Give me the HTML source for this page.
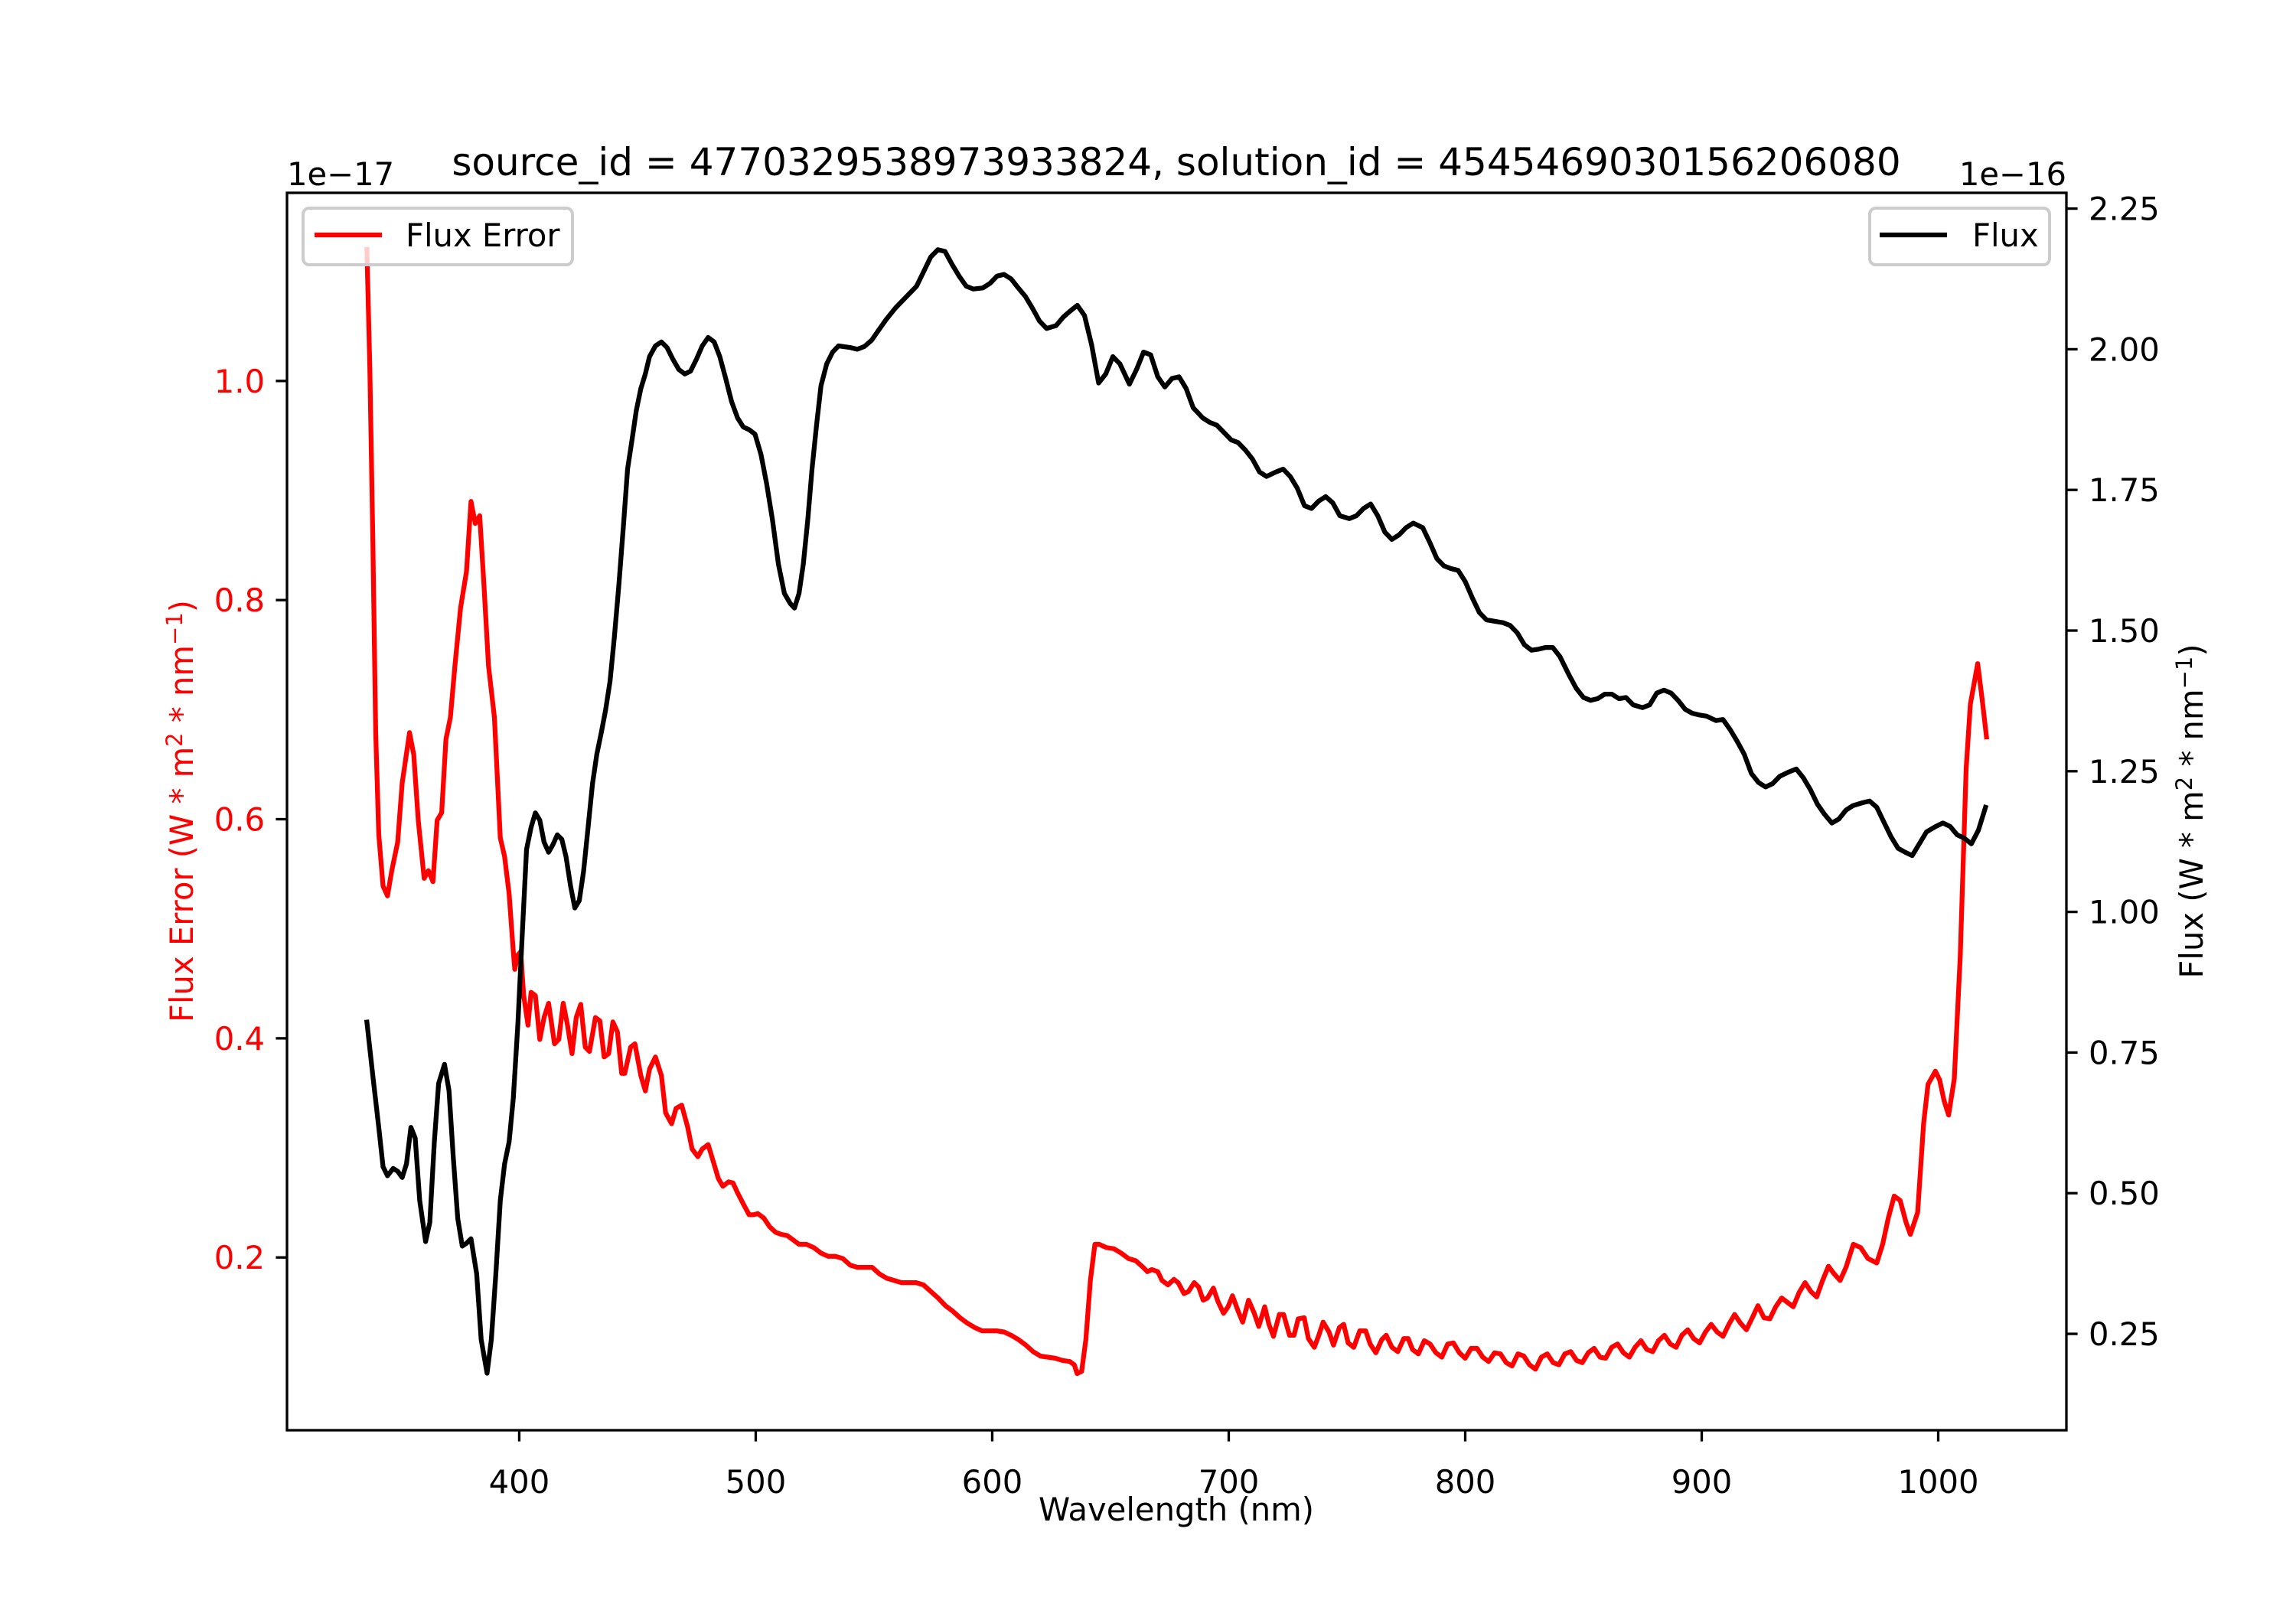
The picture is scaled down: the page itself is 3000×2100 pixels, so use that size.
<!DOCTYPE html>
<html><head><meta charset="utf-8"><title>Flux spectrum</title>
<style>
html,body{margin:0;padding:0;background:#fff;}
svg{display:block;}
text{font-family:"DejaVu Sans","Liberation Sans",sans-serif;}
</style></head>
<body>
<svg id="chart" width="3000" height="2100" viewBox="0 0 3000 2100" xmlns="http://www.w3.org/2000/svg">
<rect width="3000" height="2100" fill="#fff"/>
<text x="1537" y="229" font-size="50" text-anchor="middle">source_id = 4770329538973933824, solution_id = 4545469030156206080</text>
<text x="375" y="242" font-size="41.7">1e−17</text>
<text x="2700" y="242" font-size="41.7" text-anchor="end">1e−16</text>
<g id="plot"></g>
<text x="1537" y="1987" font-size="41.7" text-anchor="middle">Wavelength (nm)</text>
<text transform="translate(252,1060) rotate(-90)" font-size="41.7" fill="#ff0000" text-anchor="middle">Flux Error (W * m<tspan font-size="29" dy="-14">2</tspan><tspan dy="14"> * nm</tspan><tspan font-size="29" dy="-14">−1</tspan><tspan dy="14">)</tspan></text>
<text transform="translate(2878,1060) rotate(-90)" font-size="41.7" fill="#000" text-anchor="middle">Flux (W * m<tspan font-size="29" dy="-14">2</tspan><tspan dy="14"> * nm</tspan><tspan font-size="29" dy="-14">−1</tspan><tspan dy="14">)</tspan></text>
</svg>
<script>
const xTicks = [400, 500, 600, 700, 800, 900, 1000];
const errTicks = [0.2, 0.4, 0.6, 0.8, 1.0];
const errTickLabels = ["0.2", "0.4", "0.6", "0.8", "1.0"];
const fluxTicks = [0.25, 0.5, 0.75, 1.0, 1.25, 1.5, 1.75, 2.0, 2.25];
const fluxTickLabels = ["0.25", "0.50", "0.75", "1.00", "1.25", "1.50", "1.75", "2.00", "2.25"];

const wlFlux = [335.6,338.1,340.6,342.4,344.3,346.7,348.6,350.5,352.3,354.2,356.0,357.9,360.4,362.2,364.1,365.9,368.4,370.3,372.1,374.0,375.9,377.7,379.6,382.0,383.9,386.4,388.2,390.1,392.0,393.8,395.7,397.5,399.4,401.2,403.1,405.0,406.8,408.7,410.5,412.4,414.2,416.1,418.0,419.8,421.7,423.5,425.4,427.2,429.1,431.0,432.8,434.7,436.5,438.4,440.2,442.1,444.0,445.8,447.7,449.5,451.4,453.3,455.1,457.6,460.1,462.5,465.0,467.5,470.0,472.4,474.9,477.4,479.9,482.4,484.8,487.3,489.8,492.3,494.7,497.2,499.7,502.2,504.6,507.1,509.6,512.1,514.6,516.4,518.3,520.1,522.0,523.8,525.7,527.6,530.0,532.5,535.0,
540,543,546,549,552,555,559,562,565,568,571,574,577,580,583,586,589,592,596,599,602,605,608,611,614,617,620,623,627,630,633,636,639,642,645,648,651,654,658,661,664,667,670,673,676,679,682,685,689,692,695,698,701,704,707,710,713,716,720,723,726,729,732,735,738,741,744,747,751,754,757,760,763,766,769,772,775,778,782,785,788,791,794,797,800,803,806,809,813,816,819,822,825,828,831,834,837,840,844,847,850,853,856,859,862,865,868,871,875,878,881,884,887,890,893,896,899,902,906,909,912,915,918,921,924,927,930,933,937,940,943,946,949,952,955,958,961,964,968,971,974,977,980,983,986,989,992,995,999,1002,1005,1008,1011,1014,1017,1020];
const flux = [0.804,0.708,0.617,0.547,0.531,0.544,0.539,0.528,0.552,0.617,0.598,0.487,0.414,0.448,0.591,0.695,0.729,0.682,0.565,0.455,0.406,0.411,0.419,0.357,0.240,0.180,0.240,0.357,0.487,0.552,0.591,0.669,0.799,0.955,1.111,1.150,1.176,1.163,1.124,1.106,1.119,1.137,1.129,1.098,1.046,1.007,1.020,1.072,1.150,1.228,1.280,1.319,1.358,1.410,1.488,1.579,1.683,1.787,1.839,1.891,1.930,1.956,1.987,2.006,2.013,2.003,1.982,1.964,1.956,1.961,1.982,2.006,2.021,2.013,1.987,1.948,1.907,1.878,1.862,1.857,1.849,1.813,1.761,1.696,1.618,1.566,1.548,1.540,1.566,1.618,1.696,1.787,1.865,1.935,1.974,1.995,2.006,
2.003,2.000,2.005,2.016,2.034,2.052,2.073,2.086,2.099,2.112,2.138,2.164,2.177,2.174,2.151,2.130,2.112,2.107,2.109,2.117,2.130,2.133,2.125,2.109,2.094,2.073,2.050,2.037,2.042,2.057,2.068,2.078,2.060,2.008,1.940,1.956,1.987,1.974,1.938,1.964,1.995,1.990,1.951,1.933,1.948,1.951,1.930,1.896,1.878,1.870,1.865,1.852,1.839,1.834,1.821,1.805,1.782,1.774,1.782,1.787,1.774,1.753,1.722,1.717,1.730,1.738,1.727,1.704,1.699,1.704,1.717,1.725,1.704,1.675,1.662,1.670,1.683,1.691,1.683,1.657,1.628,1.615,1.610,1.607,1.587,1.558,1.532,1.519,1.516,1.514,1.509,1.496,1.475,1.465,1.467,1.470,1.470,1.454,1.420,1.397,1.381,1.376,1.379,1.387,1.387,1.379,1.381,1.368,1.363,1.368,1.389,1.394,1.389,1.376,1.360,1.353,1.350,1.348,1.340,1.342,1.324,1.303,1.280,1.246,1.230,1.222,1.228,1.241,1.249,1.254,1.238,1.217,1.191,1.173,1.158,1.165,1.181,1.189,1.194,1.197,1.186,1.160,1.134,1.113,1.106,1.100,1.121,1.142,1.152,1.158,1.152,1.137,1.131,1.121,1.145,1.186];

const wlErr = [335.6,336.8,338.1,339.3,340.6,342.4,344.3,346.1,348.6,350.5,353.6,355.4,357.3,359.8,361.6,363.5,365.3,367.2,369.0,370.9,372.8,375.2,377.7,379.6,381.4,383.3,385.1,387.0,389.5,392.0,393.8,395.7,397.5,398.1,399.4,400.6,401.9,403.7,405.0,406.8,408.7,410.5,412.4,414.9,416.7,418.6,420.4,422.3,424.1,426.0,427.9,429.7,432.2,434.1,435.9,437.8,439.6,441.5,443.3,444.6,447.1,448.9,451.4,453.3,455.1,457.6,460.1,461.9,464.4,466.3,468.7,471.2,473.1,475.5,477.4,479.9,482.4,484.2,486.1,488.5,490.4,492.3,494.7,497.2,499.1,500.9,503.4,505.9,508.4,510.8,513.3,515.8,518.3,521.4,524.5,527.6,530.7,533.7,536.8,539.9,543.0,546.1,549.2,552.3,555.4,558.5,561.6,564.7,567.8,570.9,574.0,577.1,580.2,583.3,586.4,589.5,592.6,595.7,598.8,601.9,605.0,608.0,611.1,614.2,617.3,620.4,623.5,626.6,629.7,632.8,634.7,635.9,637.8,639.6,641.5,643.4,645.2,648.3,651.4,654.5,657.6,660.7,663.8,665.6,667.5,670.0,671.8,674.3,676.8,678.6,681.1,683.0,685.4,687.3,689.2,691.0,693.5,695.4,697.8,699.7,701.6,704.0,705.9,708.4,710.8,712.7,715.2,717.0,718.9,721.4,723.2,725.7,727.6,729.4,731.9,733.7,736.2,738.1,739.9,742.4,744.3,746.8,748.6,750.5,752.9,755.4,757.9,759.8,762.2,764.7,766.6,769.0,771.5,774.0,775.9,777.7,780.2,782.7,785.1,787.6,790.1,792.6,795.0,797.5,800.0,802.5,805.0,807.4,809.9,812.4,814.9,817.3,819.8,822.3,824.8,827.2,829.7,832.2,834.7,837.2,839.6,842.1,844.6,847.1,849.5,852.0,854.5,857.0,859.4,861.9,864.4,866.9,869.4,871.8,874.3,876.8,879.3,881.7,884.2,886.7,889.2,891.6,894.1,896.6,899.1,901.6,904.0,906.5,909.0,911.5,913.9,916.4,918.9,921.4,923.8,926.3,928.8,931.3,933.8,936.2,938.7,941.2,943.7,946.1,948.6,951.1,953.6,956.0,958.5,961.0,964.1,967.2,970.3,974.0,976.5,978.9,981.4,983.9,986.4,988.2,991.3,993.8,995.7,998.8,1000.6,1002.5,1004.4,1006.8,1009.3,1011.8,1013.6,1016.7,1018.6,1020.4];
const fluxErr = [1.120,1.013,0.853,0.679,0.586,0.539,0.530,0.553,0.579,0.633,0.679,0.659,0.599,0.546,0.553,0.543,0.599,0.606,0.673,0.693,0.740,0.793,0.826,0.890,0.870,0.877,0.813,0.740,0.693,0.583,0.566,0.532,0.479,0.463,0.476,0.479,0.439,0.412,0.442,0.439,0.399,0.419,0.432,0.395,0.399,0.432,0.412,0.386,0.419,0.431,0.392,0.388,0.419,0.416,0.383,0.386,0.415,0.406,0.368,0.368,0.392,0.395,0.366,0.352,0.372,0.383,0.366,0.332,0.322,0.336,0.339,0.319,0.299,0.292,0.299,0.303,0.285,0.272,0.265,0.269,0.268,0.259,0.249,0.239,0.239,0.240,0.236,0.228,0.223,0.221,0.220,0.216,0.212,0.212,0.209,0.204,0.201,0.201,0.199,0.193,0.191,0.191,0.191,0.185,0.181,0.179,0.177,0.177,0.177,0.175,0.169,0.163,0.156,0.151,0.145,0.140,0.136,0.133,0.133,0.133,0.132,0.129,0.125,0.120,0.114,0.110,0.109,0.108,0.106,0.105,0.102,0.094,0.096,0.125,0.179,0.212,0.212,0.209,0.208,0.204,0.199,0.197,0.191,0.187,0.189,0.187,0.179,0.175,0.180,0.177,0.167,0.169,0.177,0.173,0.161,0.163,0.172,0.160,0.149,0.155,0.165,0.151,0.141,0.161,0.149,0.137,0.155,0.139,0.128,0.148,0.148,0.129,0.129,0.144,0.145,0.126,0.118,0.129,0.141,0.132,0.120,0.136,0.139,0.122,0.118,0.133,0.133,0.121,0.113,0.125,0.129,0.118,0.114,0.126,0.126,0.116,0.112,0.124,0.121,0.113,0.109,0.121,0.122,0.113,0.108,0.117,0.117,0.109,0.105,0.113,0.112,0.104,0.101,0.112,0.110,0.102,0.098,0.109,0.112,0.104,0.102,0.112,0.114,0.106,0.104,0.113,0.117,0.109,0.108,0.118,0.121,0.113,0.109,0.118,0.124,0.116,0.114,0.124,0.129,0.121,0.118,0.129,0.134,0.126,0.122,0.132,0.139,0.132,0.128,0.139,0.148,0.140,0.134,0.145,0.156,0.145,0.144,0.155,0.163,0.159,0.155,0.168,0.177,0.169,0.164,0.179,0.192,0.185,0.179,0.191,0.212,0.209,0.199,0.195,0.212,0.236,0.256,0.252,0.232,0.221,0.241,0.322,0.358,0.370,0.362,0.343,0.330,0.363,0.475,0.646,0.705,0.742,0.709,0.675];

const L = 375, R = 2700, T = 252, B = 1869;
const xMin = 301.8, xMax = 1054.2;
const eMin = 0.0423, eMax = 1.1717;
const fMin = 0.0787, fMax = 2.278;
const NS = "http://www.w3.org/2000/svg";
function xS(v){ return L + (v - xMin) / (xMax - xMin) * (R - L); }
function eS(v){ return B - (v - eMin) / (eMax - eMin) * (B - T); }
function fS(v){ return B - (v - fMin) / (fMax - fMin) * (B - T); }
function mk(tag, attrs, parent){
  const el = document.createElementNS(NS, tag);
  for (const k in attrs) el.setAttribute(k, attrs[k]);
  parent.appendChild(el);
  return el;
}
const plot = document.getElementById('plot');

xTicks.forEach(v => {
  const x = xS(v);
  const t = mk('line', {x1:x, x2:x, y1:B, y2:B+14.6, stroke:'#000', 'stroke-width':3.3}, plot);
  
  
  const lb = mk('text', {x:x, y:1951, 'font-size':41.7, 'text-anchor':'middle'}, plot);
  lb.textContent = String(v);
  
  
});
errTicks.forEach((v, i) => {
  const y = eS(v);
  const t = mk('line', {x1:L-14.6, x2:L, y1:y, y2:y, stroke:'#000', 'stroke-width':3.3}, plot);
  
  
  const lb = mk('text', {x:L-29, y:y+15, 'font-size':41.7, 'text-anchor':'end', fill:'#ff0000'}, plot);
  lb.textContent = errTickLabels[i];
  
  
});
fluxTicks.forEach((v, i) => {
  const y = fS(v);
  const t = mk('line', {x1:R, x2:R+14.6, y1:y, y2:y, stroke:'#000', 'stroke-width':3.3}, plot);
  
  
  const lb = mk('text', {x:R+29, y:y+15, 'font-size':41.7, 'text-anchor':'start'}, plot);
  lb.textContent = fluxTickLabels[i];
  
  
});

let d = '';
const nE = Math.min(wlErr.length, fluxErr.length);
for (let i = 0; i < nE; i++) d += (i ? 'L' : 'M') + xS(wlErr[i]).toFixed(1) + ',' + eS(fluxErr[i]).toFixed(1);
const errLine = mk('path', {d:d, fill:'none', stroke:'#ff0000', 'stroke-width':6.25, 'stroke-linejoin':'round', 'stroke-linecap':'square'}, plot);



const lg1 = mk('g', {}, plot);


mk('rect', {x:396, y:272, width:352, height:74, rx:8, fill:'#fff', 'fill-opacity':0.8, stroke:'#cccccc', 'stroke-width':4}, lg1);
mk('line', {x1:411, x2:499, y1:307, y2:307, stroke:'#ff0000', 'stroke-width':6.25}, lg1);
const lt1 = mk('text', {x:530, y:322, 'font-size':41.7}, lg1);
lt1.textContent = 'Flux Error';

d = '';
const nF = Math.min(wlFlux.length, flux.length);
for (let i = 0; i < nF; i++) d += (i ? 'L' : 'M') + xS(wlFlux[i]).toFixed(1) + ',' + fS(flux[i]).toFixed(1);
const fluxLine = mk('path', {d:d, fill:'none', stroke:'#000', 'stroke-width':6.25, 'stroke-linejoin':'round', 'stroke-linecap':'square'}, plot);



const lg2 = mk('g', {}, plot);


mk('rect', {x:2443, y:272, width:235, height:74, rx:8, fill:'#fff', 'fill-opacity':0.8, stroke:'#cccccc', 'stroke-width':4}, lg2);
mk('line', {x1:2456, x2:2544, y1:307, y2:307, stroke:'#000', 'stroke-width':6.25}, lg2);
const lt2 = mk('text', {x:2577, y:322, 'font-size':41.7}, lg2);
lt2.textContent = 'Flux';

const fr = mk('rect', {x:L, y:T, width:R-L, height:B-T, fill:'none', stroke:'#000', 'stroke-width':3.3}, plot);


</script>
</body></html>
